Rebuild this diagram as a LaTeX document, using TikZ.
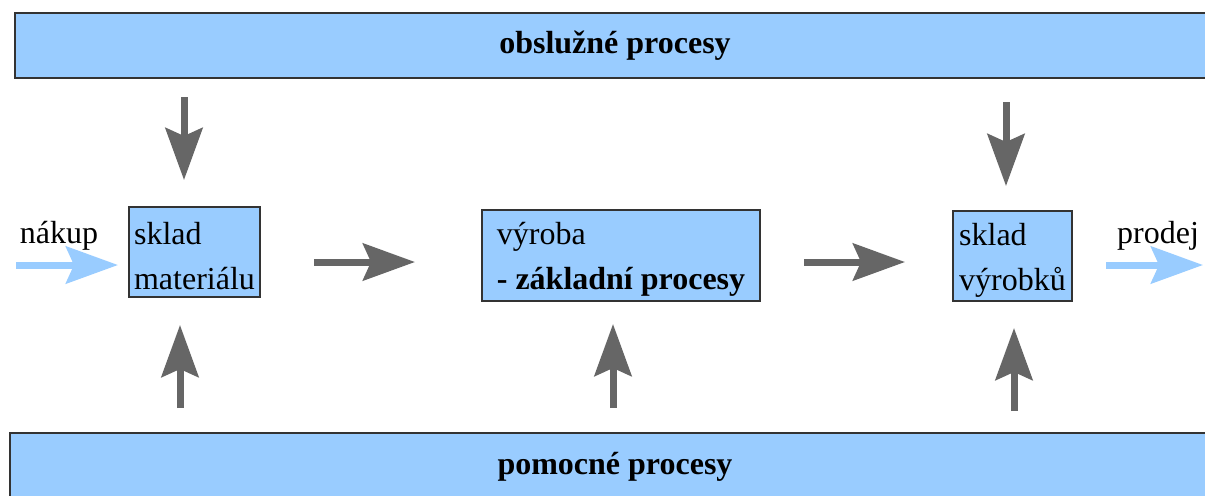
\documentclass[tikz,border=0pt]{standalone}
\usepackage{fontspec}
\setmainfont{Liberation Serif}
\usetikzlibrary{positioning,arrows.meta}
\definecolor{procblue}{HTML}{99CCFF}
\definecolor{arrgray}{HTML}{666666}

\begin{document}
\begin{tikzpicture}[x=0.5pt, y=-0.5pt,
	bar/.style={draw=black!80, line width=0.6pt, fill=procblue, inner sep=0pt, outer sep=0pt, font=\fontsize{16}{22.5}\selectfont\bfseries},
	box/.style={draw=black!80, line width=0.6pt, fill=procblue, align=left, inner sep=0pt, outer sep=0pt, minimum height=45pt, text height=37.5pt, font=\fontsize{16}{22.5}\selectfont},
	label/.style={anchor=base, inner sep=0pt, font=\fontsize{16}{22.5}\selectfont},
	flow/.style={draw=arrgray, line width=3.5pt, -{Stealth[length=26pt, width=18.5pt, inset=4pt]}},
	inflow/.style={flow, draw=procblue}]
	\useasboundingbox (0,0) rectangle (1205,495);

	\node[bar, anchor=north west, minimum width=600pt, minimum height=32.5pt] (obsl) at (15,13) {obslužné procesy};
	\node[bar, anchor=north west, minimum width=605pt, minimum height=33.5pt] (pomoc) at (10,433) {pomocné procesy};

	\node[box, anchor=north west, minimum width=65.5pt] (sklad1) at (129,207) {sklad\\materiálu};
	\node[box, anchor=north west, minimum width=139pt, minimum height=45.5pt] (vyroba) at (482,210) {výroba\\\textbf{- základní procesy}};
	\node[box, anchor=north west, minimum width=59.5pt] (sklad2) at (953,211) {sklad\\výrobků};

	\node[label] (nakup) at (59,243) {nákup};
	\node[label] (prodej) at (1158,243) {prodej};

	\coordinate (nakupin) at (16,265);
	\coordinate (prodejout) at (1203,265);
	\coordinate (midrow) at (0,262);
	\coordinate (c1) at (184,0);
	\coordinate (c1b) at (180,0);
	\coordinate (c2) at (613,0);
	\coordinate (c3) at (1006,0);
	\coordinate (c3b) at (1014,0);

	\draw[inflow, shorten >=5.5pt] (nakupin) -- (nakupin -| sklad1.west);
	\draw[inflow, shorten <=17pt] (sklad2.east |- prodejout) -- (prodejout);

	\draw[flow, shorten <=27pt, shorten >=33.5pt] (sklad1.east |- midrow) -- (vyroba.west |- midrow);
	\draw[flow, shorten <=22pt, shorten >=24pt] (vyroba.east |- midrow) -- (sklad2.west |- midrow);

	\draw[flow, shorten <=9.5pt, shorten >=13.5pt] (obsl.south -| c1) -- (sklad1.north -| c1);
	\draw[flow, shorten <=12pt, shorten >=12.5pt] (obsl.south -| c3) -- (sklad2.north -| c3);

	\draw[flow, shorten <=12.5pt, shorten >=14pt] (pomoc.north -| c1b) -- (sklad1.south -| c1b);
	\draw[flow, shorten <=12.5pt, shorten >=11.5pt] (pomoc.north -| c2) -- (vyroba.south -| c2);
	\draw[flow, shorten <=11pt, shorten >=13.5pt] (pomoc.north -| c3b) -- (sklad2.south -| c3b);
\end{tikzpicture}
\end{document}
